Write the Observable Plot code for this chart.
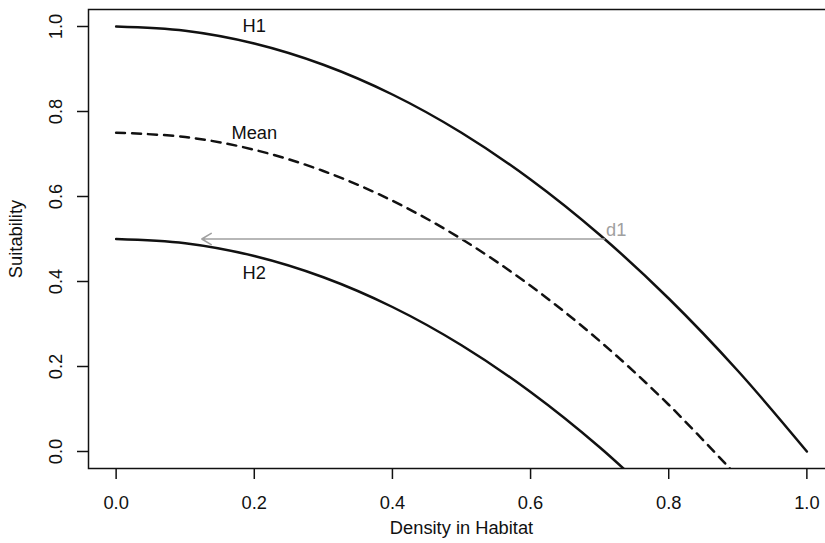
<!DOCTYPE html>
<html>
<head>
<meta charset="utf-8">
<script src="https://cdn.jsdelivr.net/npm/d3@7"></script>
<script src="https://cdn.jsdelivr.net/npm/@observablehq/plot@0.6"></script>
<style>
  html, body { margin: 0; padding: 0; background: #fff; overflow: hidden; }
  #chart { width: 825px; height: 543px; overflow: hidden; }
  #chart svg { max-width: none !important; }
</style>
</head>
<body>
<div id="chart"></div>
<script>
// Values
const xH1 = [0, 0.1, 0.2, 0.3, 0.4, 0.5, 0.6, 0.7, 0.8, 0.9, 1.0];
const yH1 = [1.00, 0.99, 0.96, 0.91, 0.84, 0.75, 0.64, 0.51, 0.36, 0.19, 0.00];
const xMean = [0, 0.1, 0.2, 0.3, 0.4, 0.5, 0.6, 0.7, 0.8, 0.9];
const yMean = [0.75, 0.74, 0.71, 0.66, 0.59, 0.50, 0.39, 0.26, 0.11, -0.06];
const xH2 = [0, 0.1, 0.2, 0.3, 0.4, 0.5, 0.6, 0.7, 0.8];
const yH2 = [0.50, 0.49, 0.46, 0.41, 0.34, 0.25, 0.14, 0.01, -0.14];

const curveLabels = ["H1", "Mean", "H2"];
const labelX = [0.2, 0.2, 0.2];
const labelY = [1.0, 0.75, 0.42];

const arrowFrom = {x: 0.707, y: 0.5};
const arrowTo = {x: 0.124, y: 0.5};
const arrowLabel = "d1";
const arrowLabelPos = {x: 0.724, y: 0.52};

const xTicks = [0, 0.2, 0.4, 0.6, 0.8, 1.0];
const yTicks = [0, 0.2, 0.4, 0.6, 0.8, 1.0];
const xTitle = "Density in Habitat";
const yTitle = "Suitability";

const toRows = (xs, ys) => xs.map((x, i) => ({x, y: ys[i]}));
const h1 = toRows(xH1, yH1);
const mean = toRows(xMean, yMean);
const h2 = toRows(xH2, yH2);
const labels = curveLabels.map((t, i) => ({t, x: labelX[i], y: labelY[i]}));

const ink = "#111";
const grey = "#a0a0a0";

const chart = Plot.plot({
  width: 836,
  height: 543,
  marginLeft: 88,
  marginRight: 2,
  marginTop: 9,
  marginBottom: 75,
  style: {fontFamily: "'Liberation Sans', Arial, sans-serif", fontSize: "18.3px", background: "#fff", color: ink, maxWidth: "none"},
  x: {domain: [-0.04, 1.04]},
  y: {domain: [-0.04, 1.04]},
  marks: [
    Plot.axisX({ticks: xTicks, tickSize: 11, tickPadding: 16, tickFormat: d => d.toFixed(1), label: null, stroke: ink, strokeWidth: 1.5, fill: ink}),
    Plot.axisY({ticks: yTicks, tickSize: 11, tickFormat: () => "", label: null, stroke: ink, strokeWidth: 1.5}),
    Plot.text(yTicks, {y: d => d, text: d => d.toFixed(1), frameAnchor: "left", textAnchor: "middle", dx: -32, rotate: -90, fill: ink}),
    Plot.text([xTitle], {frameAnchor: "bottom", dy: 65.5, fill: ink}),
    Plot.text([yTitle], {frameAnchor: "left", textAnchor: "middle", rotate: -90, dx: -72, fill: ink}),
    Plot.frame({stroke: ink, strokeWidth: 1.5}),
    Plot.line(h1, {x: "x", y: "y", stroke: ink, strokeWidth: 2.5, curve: "catmull-rom", clip: true}),
    Plot.line(mean, {x: "x", y: "y", stroke: ink, strokeWidth: 2.5, strokeDasharray: "9,7", curve: "catmull-rom", clip: true}),
    Plot.line(h2, {x: "x", y: "y", stroke: ink, strokeWidth: 2.5, curve: "catmull-rom", clip: true}),
    Plot.arrow([{x1: arrowFrom.x, y1: arrowFrom.y, x2: arrowTo.x, y2: arrowTo.y}], {x1: "x1", y1: "y1", x2: "x2", y2: "y2", stroke: grey, strokeWidth: 1.5, headLength: 11, headAngle: 62}),
    Plot.text(labels, {x: "x", y: "y", text: "t", fill: ink}),
    Plot.text([arrowLabel], {x: () => arrowLabelPos.x, y: () => arrowLabelPos.y, fill: grey})
  ]
});
document.getElementById("chart").appendChild(chart);
</script>
</body>
</html>
